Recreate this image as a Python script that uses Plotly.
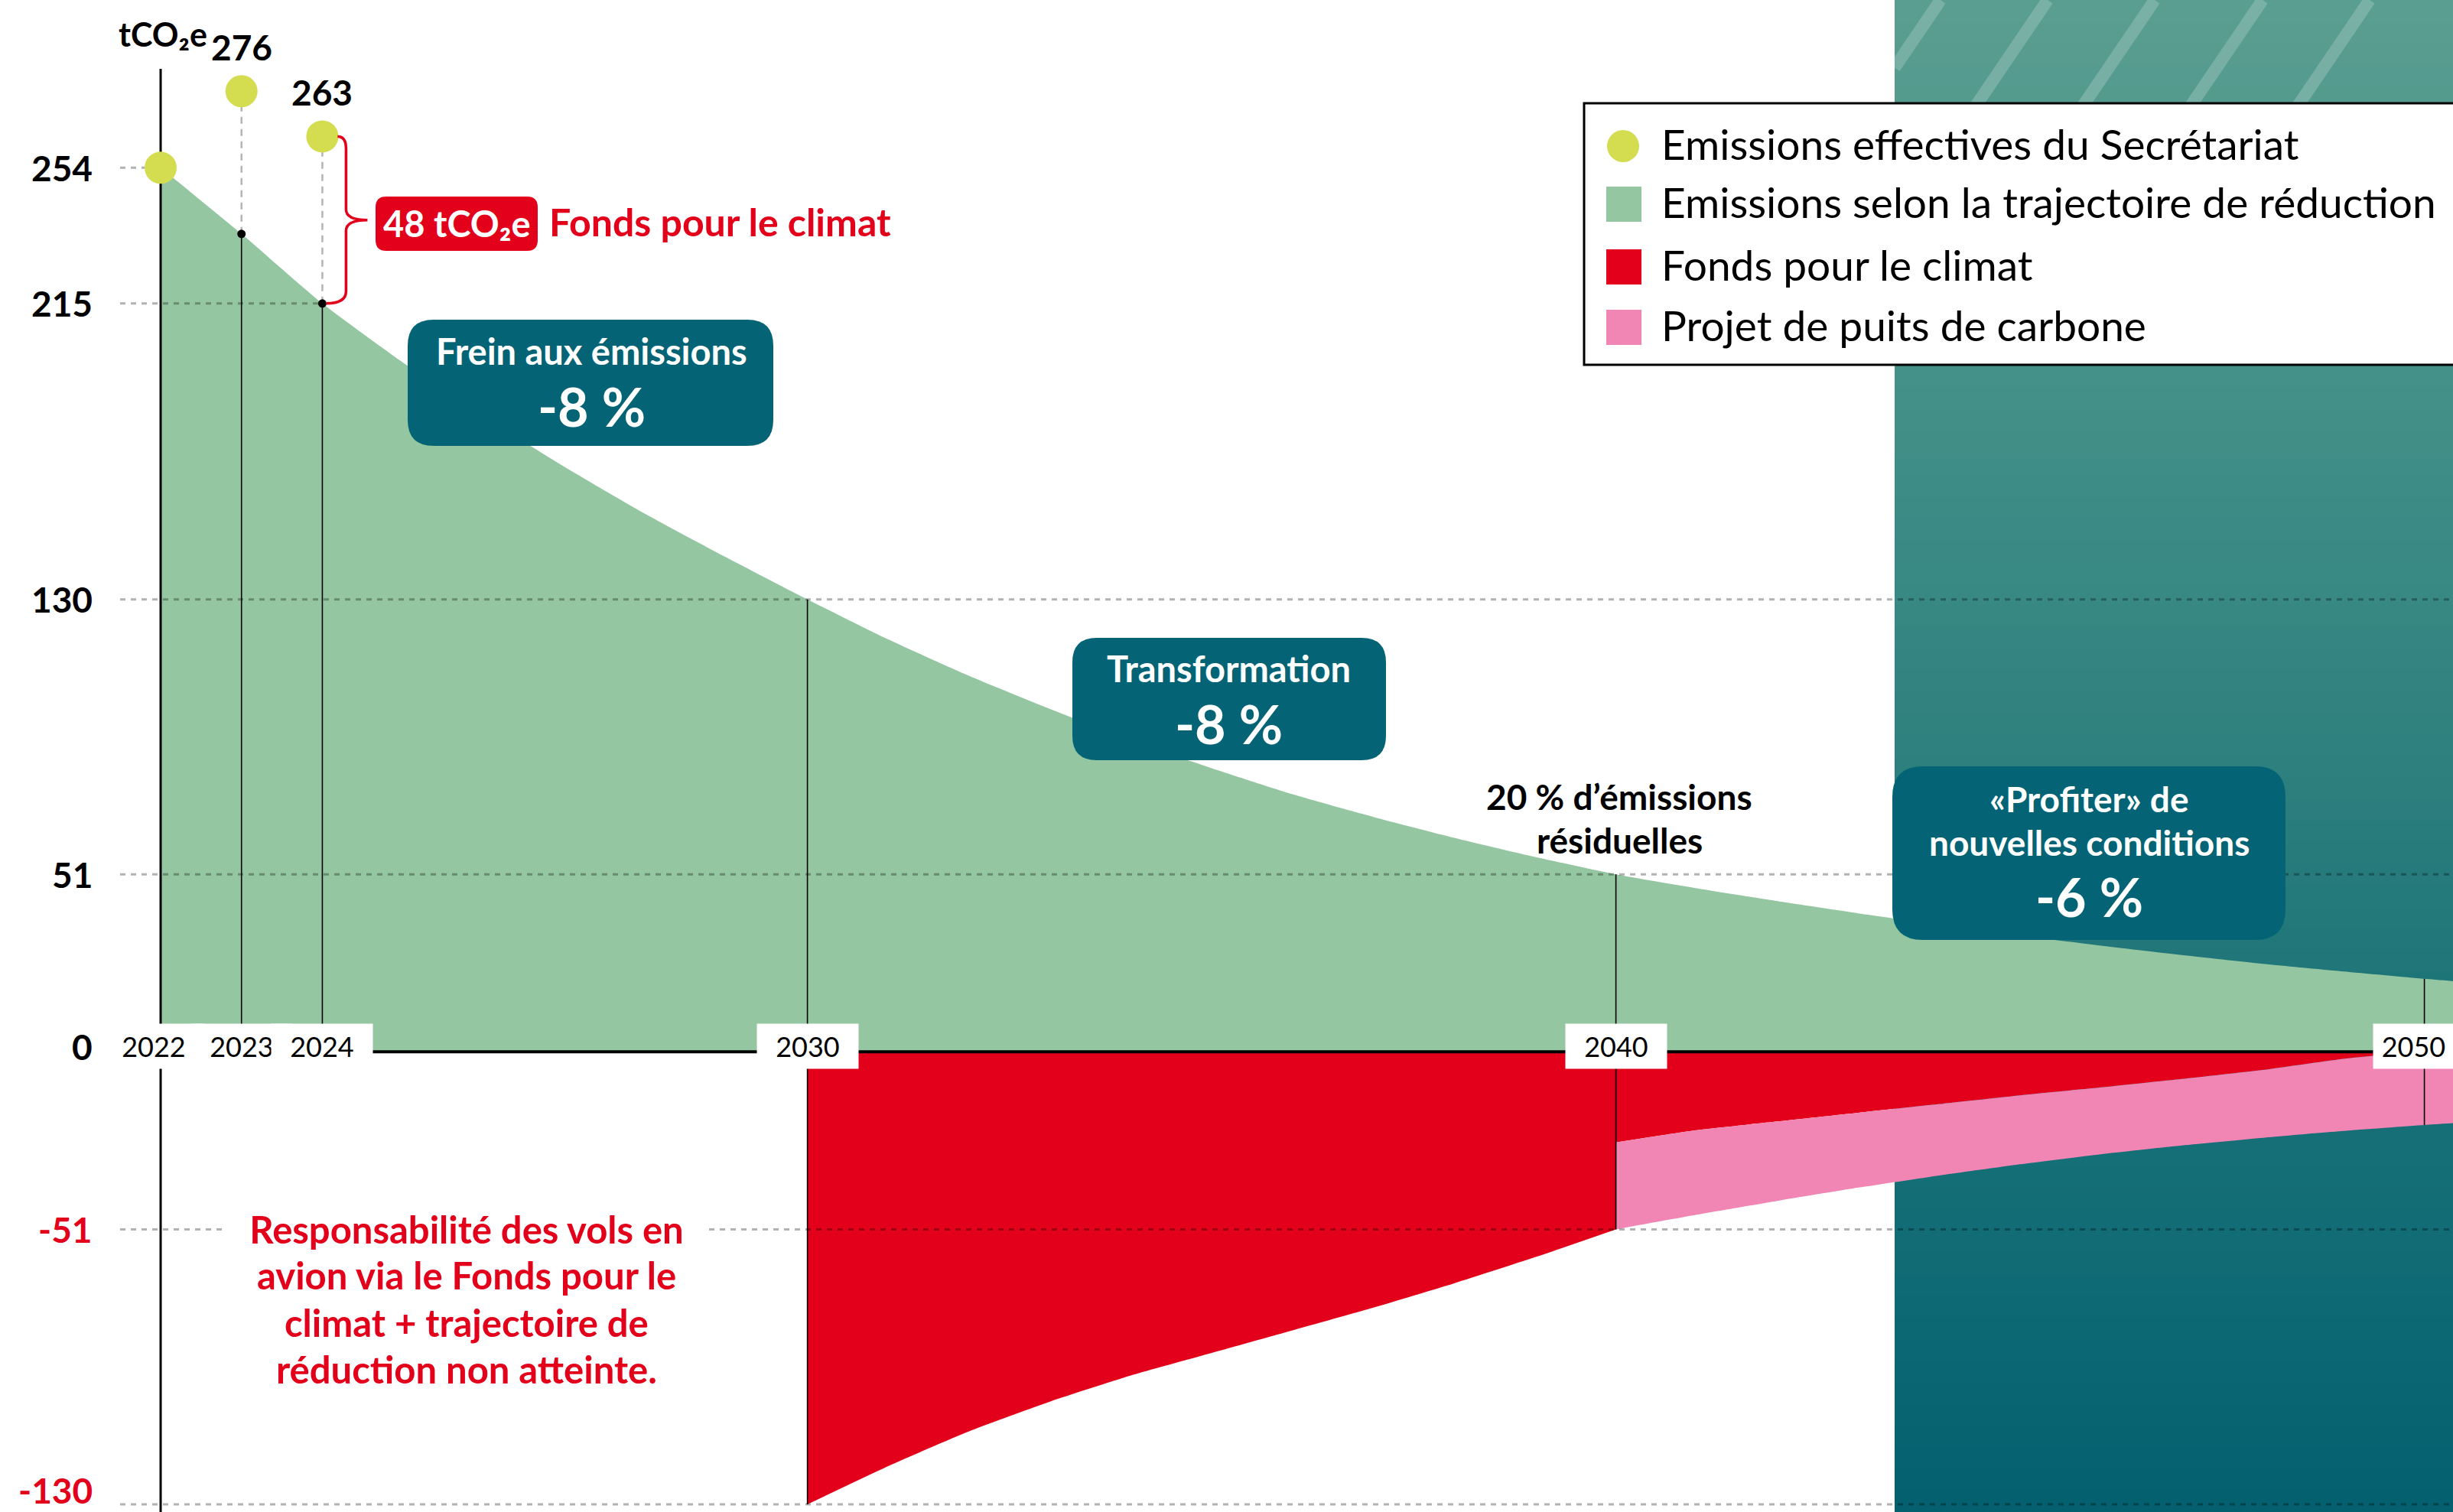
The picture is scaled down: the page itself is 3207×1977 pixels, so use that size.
import plotly.graph_objects as go

# ---------------- data ----------------
years_traj = list(range(2022, 2052))
traj_values = [254, 235, 215, 198, 182.5, 168, 154.5, 142, 130, 118.5, 108, 98.5, 89.5, 81.5, 74,
               67.5, 61.5, 56, 51, 47, 43.3, 39.8, 36.5, 33.4, 30.5, 27.8, 25.3, 23.1, 21, 19.1]

years_actual = [2022, 2023, 2024]
actual_values = [254, 276, 263]

years_fund_a = list(range(2030, 2041))
fund_lower_a = [-130, -119, -109, -100.5, -93, -86.5, -80, -73.5, -66.5, -59, -51]

years_fund_b = list(range(2040, 2052))
fund_lower_b = [-26, -22.5, -20, -17.5, -15, -12.5, -10.2, -7.8, -5.2, -2, 0, 0]
sink_lower = [-51, -46.8, -42.8, -39, -35.5, -32.3, -29.4, -26.9, -24.7, -22.7, -21, -19.5]

y_ticks = [254, 215, 130, 51, 0, -51, -130]
x_ticks = [2022, 2023, 2024, 2030, 2040, 2050]
milestones = [2030, 2040, 2050]

legend_labels = ["Emissions effectives du Secrétariat",
                 "Emissions selon la trajectoire de réduction",
                 "Fonds pour le climat",
                 "Projet de puits de carbone"]

# ---------------- style ----------------
W, H = 3207, 1977
X_RANGE = [2020.013, 2050.354]
Y_RANGE = [-132.2, 302.2]
FONT = "Lato"
GREEN = "#94c6a1"
RED = "#e2001a"
PINK = "#f186b5"
YELLOW = "#d4dc50"
TEAL = "#046475"
LINE_BOX = 1.2   # text box height per font size

PX_PER_YEAR = W / (X_RANGE[1] - X_RANGE[0])
PX_PER_UNIT = H / (Y_RANGE[1] - Y_RANGE[0])


def px_x(xd):
    return (xd - X_RANGE[0]) * PX_PER_YEAR


def px_y(yd):
    return (Y_RANGE[1] - yd) * PX_PER_UNIT


def P(x, y):
    return f"{x / W:.6f},{1 - y / H:.6f}"


def rrect_path(x0, y0, x1, y1, r):
    return (f"M{P(x0 + r, y0)} L{P(x1 - r, y0)} Q{P(x1, y0)} {P(x1, y0 + r)} "
            f"L{P(x1, y1 - r)} Q{P(x1, y1)} {P(x1 - r, y1)} L{P(x0 + r, y1)} "
            f"Q{P(x0, y1)} {P(x0, y1 - r)} L{P(x0, y0 + r)} Q{P(x0, y0)} {P(x0 + r, y0)} Z")


def traj_at(year):
    return traj_values[years_traj.index(year)]


fig = go.Figure()

# green trajectory area
fig.add_trace(go.Scatter(x=years_traj, y=traj_values, mode="lines", fill="tozeroy",
                         fillcolor=GREEN, line=dict(width=0, shape="spline", smoothing=0.6),
                         hoverinfo="skip"))
# climate fund (red)
fig.add_trace(go.Scatter(x=years_fund_a, y=fund_lower_a, mode="lines", fill="tozeroy",
                         fillcolor=RED, line=dict(width=0, shape="spline", smoothing=0.6),
                         hoverinfo="skip"))
fig.add_trace(go.Scatter(x=years_fund_b, y=fund_lower_b, mode="lines", fill="tozeroy",
                         fillcolor=RED, line=dict(width=0, shape="spline", smoothing=0.5),
                         hoverinfo="skip"))
# carbon sink (pink)
fig.add_trace(go.Scatter(x=years_fund_b, y=fund_lower_b, mode="lines",
                         line=dict(width=0, shape="spline", smoothing=0.5), hoverinfo="skip"))
fig.add_trace(go.Scatter(x=years_fund_b, y=sink_lower, mode="lines", fill="tonexty",
                         fillcolor=PINK, line=dict(width=0, shape="spline", smoothing=0.5),
                         hoverinfo="skip"))

# vertical milestone lines
vx, vy = [], []
for yr in years_actual[1:]:
    vx += [yr, yr, None]
    vy += [0, traj_at(yr), None]
lows = {2030: fund_lower_a[0], 2040: fund_lower_a[-1], 2050: sink_lower[years_fund_b.index(2050)]}
for yr in milestones:
    vx += [yr, yr, None]
    vy += [lows[yr], traj_at(yr), None]
fig.add_trace(go.Scatter(x=vx, y=vy, mode="lines", line=dict(color="black", width=1.6),
                         hoverinfo="skip"))

# grey dashed connectors between trajectory and actual emissions
cx, cy = [], []
for yr, val in zip(years_actual[1:], actual_values[1:]):
    cx += [yr, yr, None]
    cy += [traj_at(yr), val, None]
fig.add_trace(go.Scatter(x=cx, y=cy, mode="lines",
                         line=dict(color="#b5b5b5", width=2.5, dash="9px,7px"), hoverinfo="skip"))

# y axis line
AXIS_TOP_PX = 90
fig.add_trace(go.Scatter(x=[years_traj[0], years_traj[0]],
                         y=[Y_RANGE[0], Y_RANGE[1] - AXIS_TOP_PX / PX_PER_UNIT],
                         mode="lines", line=dict(color="black", width=3), hoverinfo="skip"))

# black dots on trajectory
fig.add_trace(go.Scatter(x=years_actual[1:], y=[traj_at(y) for y in years_actual[1:]],
                         mode="markers", marker=dict(color="black", size=11), hoverinfo="skip"))
# actual emissions (yellow)
fig.add_trace(go.Scatter(x=years_actual, y=actual_values, mode="markers",
                         marker=dict(color=YELLOW, size=42, line=dict(width=0)), hoverinfo="skip"))

shapes = []
ann = []

# teal panel (gradient via bands)
PANEL_X0 = 2477
stops = [(0, (90, 158, 144)), (500, (68, 145, 137)), (1000, (46, 128, 126)), (1250, (32, 118, 120)),
         (1500, (21, 111, 118)), (1750, (12, 104, 115)), (1977, (4, 95, 110))]


def grad(yp):
    for (y0, c0), (y1, c1) in zip(stops[:-1], stops[1:]):
        if y0 <= yp <= y1:
            t = (yp - y0) / (y1 - y0)
            return "rgb(%d,%d,%d)" % tuple(round(a + (b - a) * t) for a, b in zip(c0, c1))
    return "rgb(%d,%d,%d)" % stops[-1][1]


NB = 70
for i in range(NB):
    y0 = i * H / NB
    y1 = (i + 1) * H / NB + 1
    shapes.append(dict(type="rect", xref="paper", yref="paper", layer="below",
                       x0=PANEL_X0 / W, x1=1.01, y0=1 - y1 / H, y1=1 - y0 / H,
                       fillcolor=grad((y0 + y1) / 2), line=dict(width=0)))
# stripes
STRIPE_TOPS = [2537, 2677, 2817, 2958, 3098]
STRIPE_DX = 95
STRIPE_BOTTOM = 140
for xt in STRIPE_TOPS:
    xb = xt - STRIPE_DX
    yb = STRIPE_BOTTOM
    if xb < PANEL_X0:
        f = (PANEL_X0 - xb) / STRIPE_DX
        xb = PANEL_X0
        yb = STRIPE_BOTTOM * (1 - f)
    shapes.append(dict(type="line", xref="paper", yref="paper", layer="below",
                       x0=xb / W, y0=1 - yb / H, x1=xt / W, y1=1.0,
                       line=dict(color="rgba(255,255,255,0.2)", width=16)))

# x axis line
shapes.append(dict(type="line", xref="x", yref="y", x0=years_traj[0], x1=X_RANGE[1] + 1, y0=0, y1=0,
                   line=dict(color="black", width=4)))

# dashed gridlines
GRID_X0 = X_RANGE[0] + 157 / PX_PER_YEAR
grid_end = {254: years_actual[0] - 21 / PX_PER_YEAR, 215: years_actual[2] - 5 / PX_PER_YEAR}
for v in y_ticks:
    if v == 0:
        continue
    shapes.append(dict(type="line", xref="x", yref="y", x0=GRID_X0, x1=grid_end.get(v, X_RANGE[1] + 1),
                       y0=v, y1=v, line=dict(color="rgba(0,0,0,0.3)", width=3, dash="7px,7px")))

# brace
bx = px_x(years_actual[2])
ytop = px_y(actual_values[2])
ybot = px_y(traj_at(2024))
ymid = (ytop + ybot) / 2
xl = bx + 31
brace = (f"M{P(bx + 20, ytop)} Q{P(xl, ytop)} {P(xl, ytop + 16)} L{P(xl, ymid - 14)} "
         f"Q{P(xl, ymid)} {P(xl + 28, ymid)} Q{P(xl, ymid)} {P(xl, ymid + 14)} "
         f"L{P(xl, ybot - 16)} Q{P(xl, ybot)} {P(bx + 5, ybot)}")
shapes.append(dict(type="path", xref="paper", yref="paper", path=brace,
                   line=dict(color=RED, width=3.5)))

# text boxes
boxes = [(533, 418, 1011, 583, 34, TEAL), (1402, 834, 1812, 994, 32, TEAL),
         (2474, 1002, 2988, 1229, 40, TEAL), (491, 257, 703, 328, 14, RED)]
for x0, y0, x1, y1, r, c in boxes:
    shapes.append(dict(type="path", xref="paper", yref="paper", path=rrect_path(x0, y0, x1, y1, r),
                       fillcolor=c, line=dict(width=0)))

# legend box & symbols
shapes.append(dict(type="rect", xref="paper", yref="paper", x0=2071 / W, x1=1.01,
                   y0=1 - 477 / H, y1=1 - 135 / H, fillcolor="white", line=dict(color="black", width=3)))
shapes.append(dict(type="circle", xref="paper", yref="paper", x0=2101 / W, x1=2143 / W,
                   y0=1 - 212 / H, y1=1 - 170 / H, fillcolor=YELLOW, line=dict(width=0)))
LEG_Y = [191, 267, 349, 428]
for yc, c in zip(LEG_Y[1:], [GREEN, RED, PINK]):
    shapes.append(dict(type="rect", xref="paper", yref="paper", x0=2100 / W, x1=2146 / W,
                       y0=1 - (yc + 23) / H, y1=1 - (yc - 23) / H, fillcolor=c, line=dict(width=0)))


def A(x, y, text, size, color="black", bold=True, xanchor="center", **kw):
    d = dict(x=x / W, y=1 - y / H, xref="paper", yref="paper", text=text, showarrow=False,
             xanchor=xanchor, yanchor="middle",
             font=dict(family=FONT, size=size, color=color, weight="bold" if bold else "normal"))
    d.update(kw)
    ann.append(d)


def stack(xc, top, items, color, gap=1.5):
    """Place lines one under another, text boxes touching but not overlapping."""
    for t, s in items:
        h = LINE_BOX * s
        A(xc, top + h / 2, t, s, color)
        top += h + gap


# y tick labels
for v in y_ticks:
    shift = 7 if v == 0 else (18 if v == y_ticks[-1] else 0)
    ann.append(dict(x=123 / W, xref="paper", y=v, yref="y", text=str(v), showarrow=False,
                    xanchor="right", yanchor="middle", yshift=shift,
                    font=dict(family=FONT, size=46, color=RED if v < 0 else "black", weight="bold")))
# x tick labels with white boxes
for yr in x_ticks:
    d = dict(x=yr, xref="x", y=0, yref="y", text=str(yr), showarrow=False,
             xanchor="center", yanchor="middle", yshift=7, xshift=-9 if yr == 2022 else 0,
             width=124, height=50, borderpad=4, bgcolor="white",
             font=dict(family=FONT, size=36, color="black"))
    if yr == x_ticks[-1]:
        d.update(xanchor="left", xshift=-(px_x(yr) - 3102), width=97)
    ann.append(d)
# actual values labels
for yr, v in zip(years_actual[1:], actual_values[1:]):
    ann.append(dict(x=yr, xref="x", y=v, yref="y", text=str(v), showarrow=False,
                    xanchor="center", yanchor="middle", yshift=58,
                    font=dict(family=FONT, size=46, color="black", weight="bold")))

A(213, 45, "tCO₂e", 43)
stack(773, 431, [("Frein aux émissions", 47), ("-8 %", 70)], "white")
stack(1606, 846, [("Transformation", 47), ("-8 %", 70)], "white")
stack(2731, 1017, [("«Profiter» de", 46), ("nouvelles conditions", 46), ("-6 %", 70)], "white")
A(597, 292, "48 tCO₂e", 47, "white")
A(716, 290, "Fonds pour le climat", 50, RED, xanchor="left")
stack(2117, 1014, [("20 % d’émissions", 46), ("résiduelles", 46)], "black")
red_lines = ["Responsabilité des vols en", "avion via le Fonds pour le",
             "climat + trajectoire de", "réduction non atteinte."]
for i, (t, yy) in enumerate(zip(red_lines, [1607, 1667, 1729, 1790])):
    if i == 0:
        A(610, yy, t, 49, RED, bgcolor="white", width=630)
    else:
        A(610, yy, t, 49, RED)
for t, yy in zip(legend_labels, LEG_Y):
    A(2170, yy - 3, t, 55, "black", bold=False, xanchor="left")

fig.update_layout(
    width=W, height=H, margin=dict(l=0, r=0, t=0, b=0),
    paper_bgcolor="white", plot_bgcolor="white", showlegend=False, hovermode=False,
    xaxis=dict(range=X_RANGE, visible=False, fixedrange=True),
    yaxis=dict(range=Y_RANGE, visible=False, fixedrange=True),
    shapes=shapes, annotations=ann,
    font=dict(family=FONT),
)

fig.write_html("out.html", config={"displayModeBar": False},
               post_script="document.body.style.margin='0';")
